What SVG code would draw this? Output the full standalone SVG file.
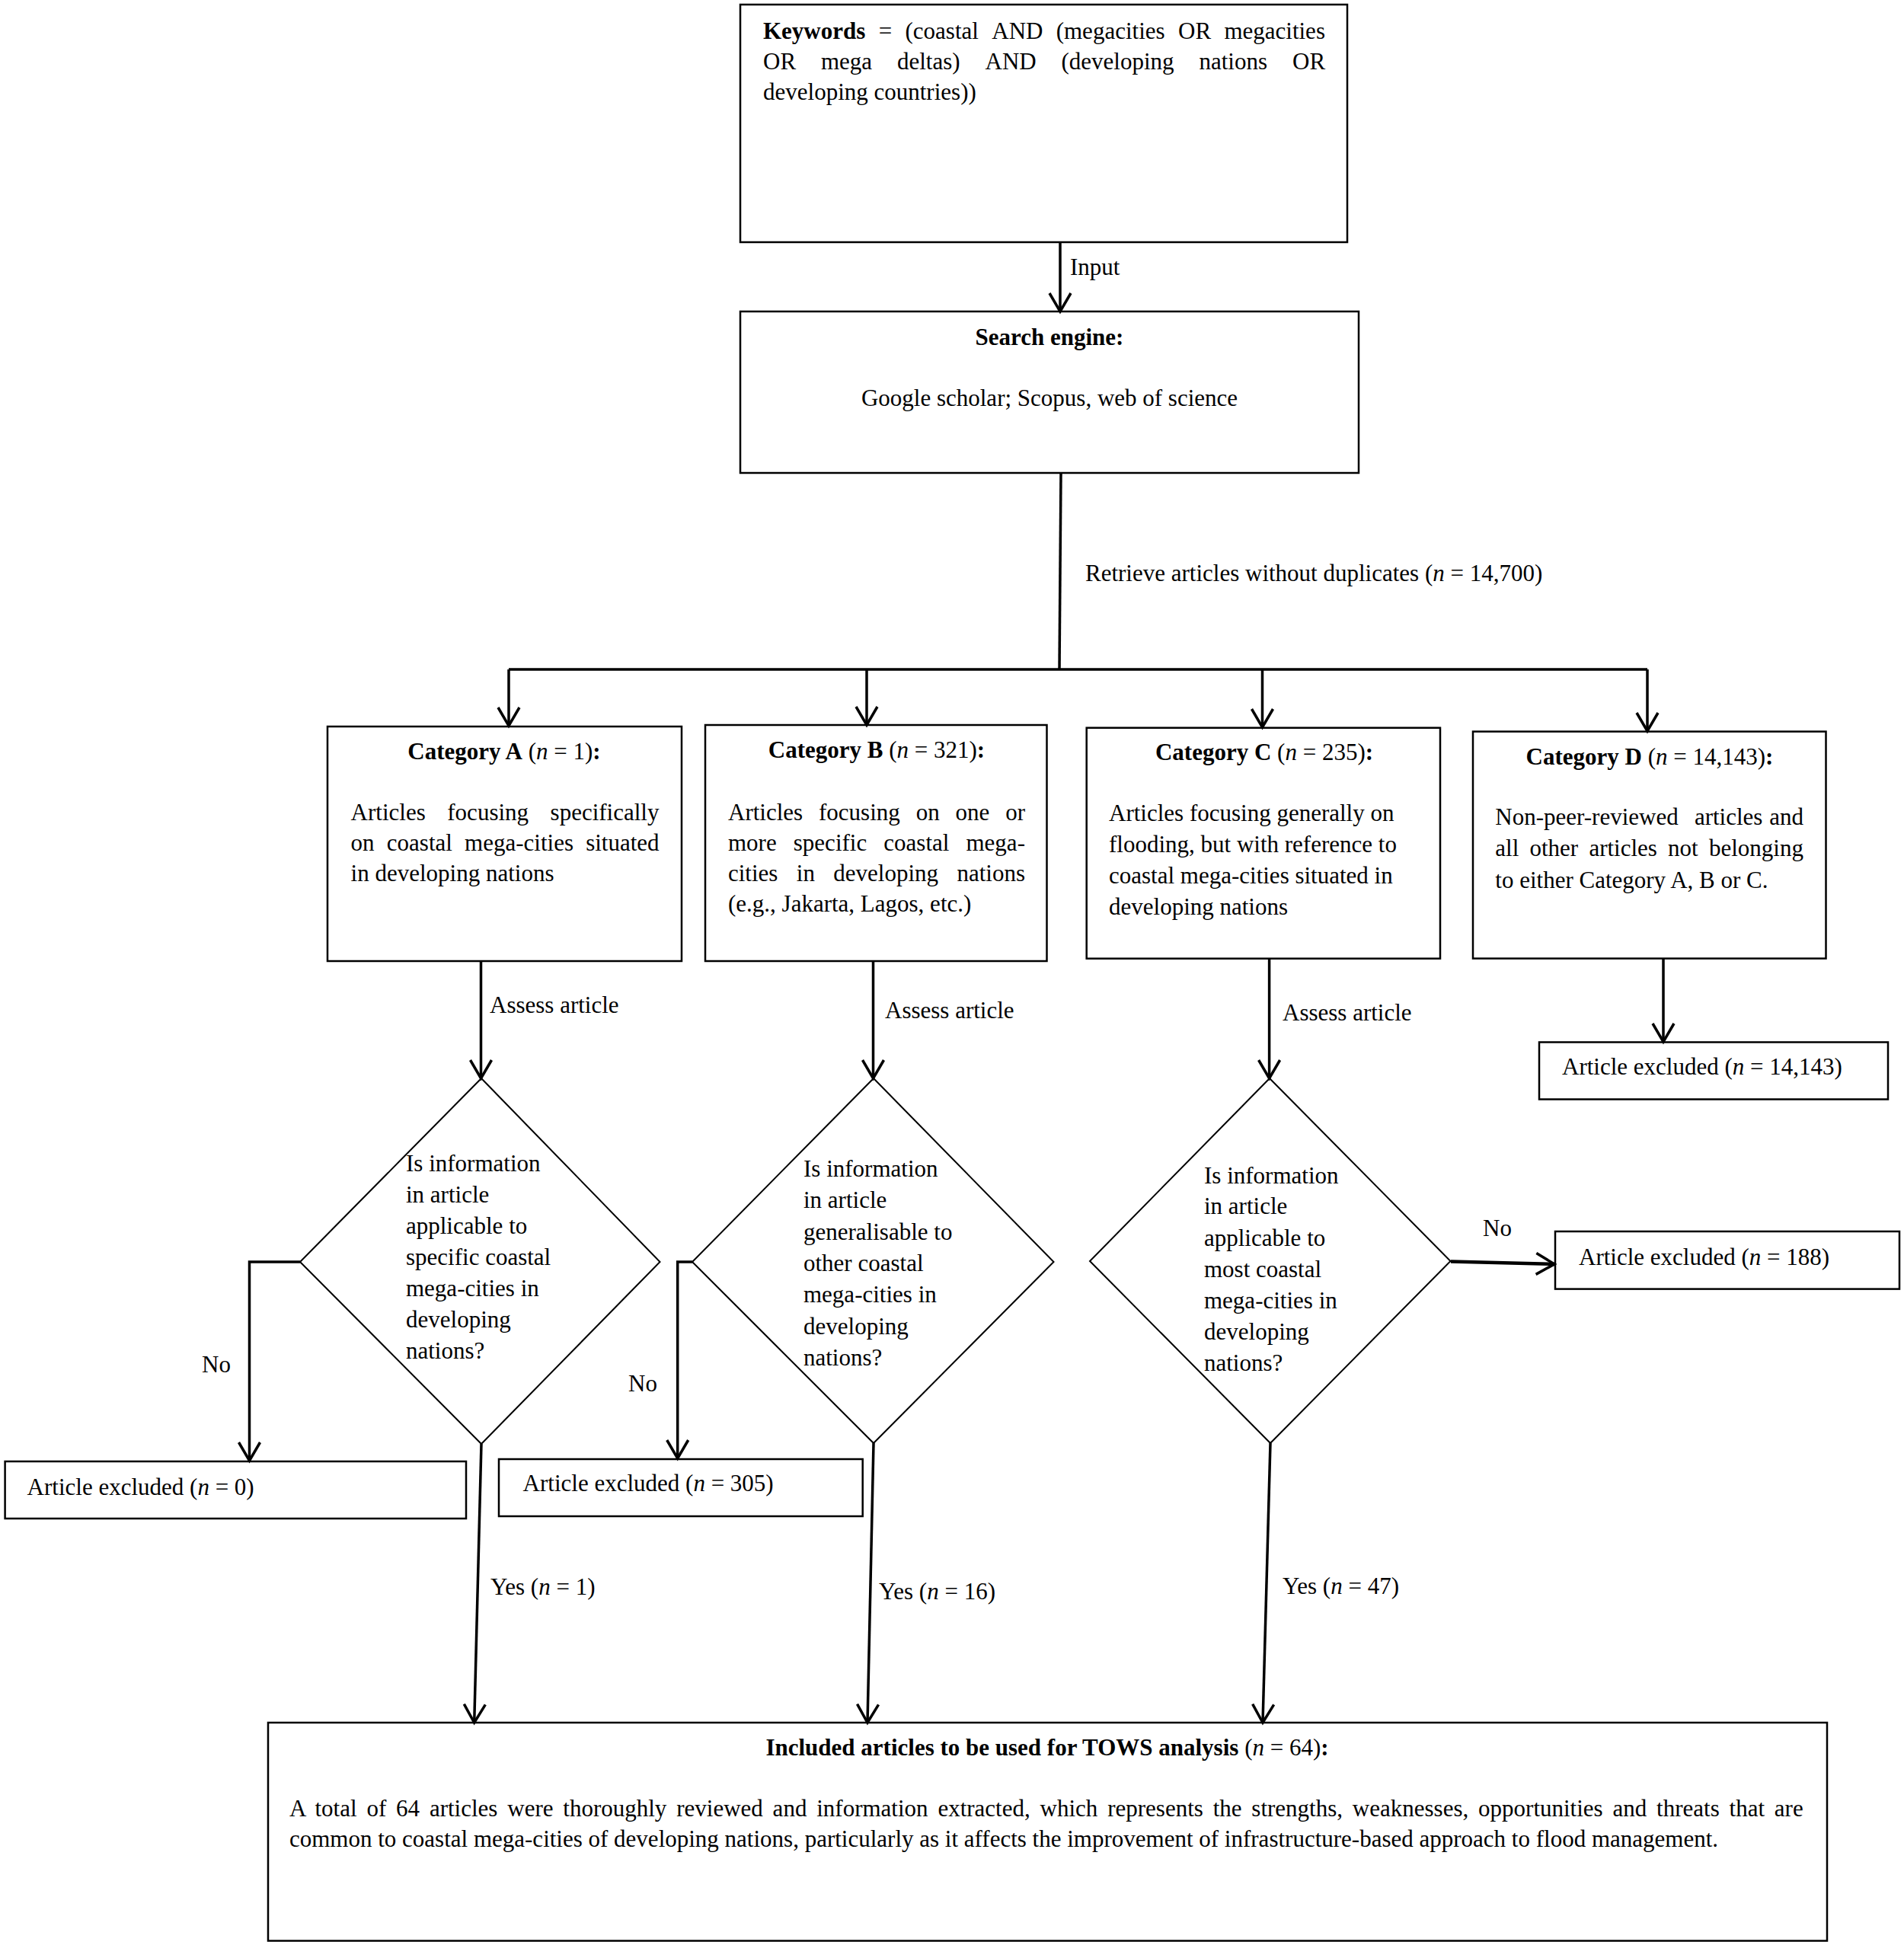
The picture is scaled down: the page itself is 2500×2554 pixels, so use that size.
<svg xmlns="http://www.w3.org/2000/svg" width="2500" height="2554" viewBox="0 0 2500 2554">
<defs>
<style>
.t{font-family:"Liberation Serif","Times New Roman",serif;font-size:31px;fill:#000}
.b{font-weight:bold}
.i{font-style:italic}
.box{fill:#fff;stroke:#000;stroke-width:2.5}
.dia{fill:#fff;stroke:#000;stroke-width:2}
.con{fill:none;stroke:#000;stroke-width:3.5}
.thick{stroke-width:4.5}
</style>
<marker id="ah" markerUnits="userSpaceOnUse" markerWidth="40" markerHeight="40" viewBox="-30 -20 40 40" refX="0" refY="0" orient="auto" overflow="visible">
<path d="M-24,-14 L0,0 L-24,14" fill="none" stroke="#000" stroke-width="3.5"/>
</marker>
</defs>
<rect width="2500" height="2554" fill="#fff"/>

<g id="keywords">
<rect class="box" x="972" y="6" width="797" height="312"/>
<text class="t" y="51"><tspan class="b" x="1002">Keywords</tspan><tspan x="1153.7">=</tspan><tspan x="1188.5">(coastal</tspan><tspan x="1302.3">AND</tspan><tspan x="1386.7">(megacities</tspan><tspan x="1547">OR</tspan><tspan x="1607.4">megacities</tspan></text>
<text class="t" y="91"><tspan x="1002">OR</tspan><tspan x="1078">mega</tspan><tspan x="1178">deltas)</tspan><tspan x="1293.5">AND</tspan><tspan x="1393.5">(developing</tspan><tspan x="1574.5">nations</tspan><tspan x="1697">OR</tspan></text>
<text class="t" x="1002" y="131">developing countries))</text>
</g>

<g id="search">
<rect class="box" x="972" y="409" width="812" height="212"/>
<text class="t b" x="1378" y="453" text-anchor="middle">Search engine:</text>
<text class="t" x="1378" y="533" text-anchor="middle">Google scholar; Scopus, web of science</text>
</g>

<g id="catA">
<rect class="box" x="430" y="954" width="465" height="308"/>
<text class="t" x="662" y="997" text-anchor="middle"><tspan class="b">Category A</tspan> (<tspan class="i">n</tspan> = 1)<tspan class="b">:</tspan></text>
<text class="t" y="1077"><tspan x="460.6">Articles</tspan><tspan x="587.3">focusing</tspan><tspan x="722.6">specifically</tspan></text>
<text class="t" y="1117"><tspan x="460.6">on</tspan><tspan x="507.8">coastal</tspan><tspan x="610.1">mega-cities</tspan><tspan x="769.2">situated</tspan></text>
<text class="t" x="460.6" y="1157">in developing nations</text>
</g>

<g id="catB">
<rect class="box" x="926" y="952" width="448.5" height="310"/>
<text class="t" x="1151" y="995" text-anchor="middle"><tspan class="b">Category B</tspan> (<tspan class="i">n</tspan> = 321)<tspan class="b">:</tspan></text>
<text class="t" y="1077"><tspan x="956">Articles</tspan><tspan x="1075">focusing</tspan><tspan x="1202.7">on</tspan><tspan x="1254.6">one</tspan><tspan x="1320.3">or</tspan></text>
<text class="t" y="1117"><tspan x="956">more</tspan><tspan x="1041.8">specific</tspan><tspan x="1160.3">coastal</tspan><tspan x="1268.5">mega-</tspan></text>
<text class="t" y="1157"><tspan x="956">cities</tspan><tspan x="1045.8">in</tspan><tspan x="1094.3">developing</tspan><tspan x="1256.5">nations</tspan></text>
<text class="t" x="956" y="1197">(e.g., Jakarta, Lagos, etc.)</text>
</g>

<g id="catC">
<rect class="box" x="1426.7" y="955.7" width="464.3" height="303"/>
<text class="t" x="1660" y="998" text-anchor="middle"><tspan class="b">Category C</tspan> (<tspan class="i">n</tspan> = 235)<tspan class="b">:</tspan></text>
<text class="t" x="1456" y="1078">Articles focusing generally on</text>
<text class="t" x="1456" y="1119">flooding, but with reference to</text>
<text class="t" x="1456" y="1160">coastal mega-cities situated in</text>
<text class="t" x="1456" y="1201">developing nations</text>
</g>

<g id="catD">
<rect class="box" x="1934" y="960.6" width="463.5" height="298"/>
<text class="t" x="2166" y="1003.5" text-anchor="middle"><tspan class="b">Category D</tspan> (<tspan class="i">n</tspan> = 14,143)<tspan class="b">:</tspan></text>
<text class="t" y="1083"><tspan x="1963.3">Non-peer-reviewed</tspan><tspan x="2224.9">articles</tspan><tspan x="2323.2">and</tspan></text>
<text class="t" y="1124"><tspan x="1963.3">all</tspan><tspan x="2008.5">other</tspan><tspan x="2086.4">articles</tspan><tspan x="2190.1">not</tspan><tspan x="2243.9">belonging</tspan></text>
<text class="t" x="1963.3" y="1166">to either Category A, B or C.</text>
</g>

<g id="exclD">
<rect class="box" x="2021" y="1368.5" width="458" height="75"/>
<text class="t" x="2051" y="1411">Article excluded (<tspan class="i">n</tspan> = 14,143)</text>
</g>

<g id="diamondA">
<polygon class="dia" points="632,1416 866.5,1657 632,1896 394,1657"/>
<text class="t" x="533" y="1538">Is information</text>
<text class="t" x="533" y="1579">in article</text>
<text class="t" x="533" y="1620">applicable to</text>
<text class="t" x="533" y="1661">specific coastal</text>
<text class="t" x="533" y="1702">mega-cities in</text>
<text class="t" x="533" y="1743">developing</text>
<text class="t" x="533" y="1784">nations?</text>
</g>

<g id="diamondB">
<polygon class="dia" points="1147,1416 1383.5,1657 1147,1895 909,1657"/>
<text class="t" x="1055" y="1545">Is information</text>
<text class="t" x="1055" y="1586">in article</text>
<text class="t" x="1055" y="1628">generalisable to</text>
<text class="t" x="1055" y="1669">other coastal</text>
<text class="t" x="1055" y="1710">mega-cities in</text>
<text class="t" x="1055" y="1752">developing</text>
<text class="t" x="1055" y="1793">nations?</text>
</g>

<g id="diamondC">
<polygon class="dia" points="1667,1416 1904.5,1656 1668,1895 1431,1656"/>
<text class="t" x="1581" y="1554">Is information</text>
<text class="t" x="1581" y="1594">in article</text>
<text class="t" x="1581" y="1636">applicable to</text>
<text class="t" x="1581" y="1677">most coastal</text>
<text class="t" x="1581" y="1718">mega-cities in</text>
<text class="t" x="1581" y="1759">developing</text>
<text class="t" x="1581" y="1800">nations?</text>
</g>

<g id="exclA">
<rect class="box" x="6.6" y="1919" width="605.4" height="75"/>
<text class="t" x="35.6" y="1963">Article excluded (<tspan class="i">n</tspan> = 0)</text>
</g>

<g id="exclB">
<rect class="box" x="655" y="1916" width="477.7" height="75"/>
<text class="t" x="686.6" y="1958">Article excluded (<tspan class="i">n</tspan> = 305)</text>
</g>

<g id="exclC">
<rect class="box" x="2042" y="1617" width="452" height="75.6"/>
<text class="t" x="2073" y="1661">Article excluded (<tspan class="i">n</tspan> = 188)</text>
</g>

<g id="tows">
<rect class="box" x="352" y="2262" width="2047" height="286.5"/>
<text class="t" x="1375" y="2305" text-anchor="middle"><tspan class="b">Included articles to be used for TOWS analysis</tspan> (<tspan class="i">n</tspan> = 64)<tspan class="b">:</tspan></text>
<text class="t" x="380" y="2385" word-spacing="5.08">A total of 64 articles were thoroughly reviewed and information extracted, which represents the strengths, weaknesses, opportunities and threats that are</text>
<text class="t" x="380" y="2425">common to coastal mega-cities of developing nations, particularly as it affects the improvement of infrastructure-based approach to flood management.</text>
</g>

<g id="connectors">
<line class="con" x1="1392" y1="318" x2="1392" y2="409" marker-end="url(#ah)"/>
<line class="con" x1="1393" y1="621" x2="1391" y2="879"/>
<line class="con" x1="668" y1="879" x2="2163" y2="879"/>
<line class="con" x1="668" y1="879" x2="668" y2="953" marker-end="url(#ah)"/>
<line class="con" x1="1138" y1="879" x2="1138" y2="952" marker-end="url(#ah)"/>
<line class="con" x1="1657.5" y1="879" x2="1657.5" y2="955" marker-end="url(#ah)"/>
<line class="con" x1="2163" y1="879" x2="2163" y2="960" marker-end="url(#ah)"/>
<line class="con" x1="631.5" y1="1262" x2="631.5" y2="1416" marker-end="url(#ah)"/>
<line class="con" x1="1146.5" y1="1262" x2="1146.5" y2="1416" marker-end="url(#ah)"/>
<line class="con" x1="1666.6" y1="1259" x2="1666.6" y2="1416" marker-end="url(#ah)"/>
<line class="con" x1="2184" y1="1259" x2="2184" y2="1368" marker-end="url(#ah)"/>
<polyline class="con" points="394,1657 327.5,1657 327.5,1918" marker-end="url(#ah)"/>
<polyline class="con" points="909,1657 889.7,1657 889.7,1915" marker-end="url(#ah)"/>
<line class="con thick" x1="1905" y1="1656.5" x2="2041" y2="1660" marker-end="url(#ah)"/>
<line class="con" x1="632" y1="1896" x2="622.7" y2="2262" marker-end="url(#ah)"/>
<line class="con" x1="1147" y1="1895" x2="1139" y2="2262" marker-end="url(#ah)"/>
<line class="con" x1="1668" y1="1895" x2="1658" y2="2262" marker-end="url(#ah)"/>
<text class="t" x="1405" y="361">Input</text>
<text class="t" x="1425" y="763">Retrieve articles without duplicates (<tspan class="i">n</tspan> = 14,700)</text>
<text class="t" x="643" y="1330">Assess article</text>
<text class="t" x="1162" y="1337">Assess article</text>
<text class="t" x="1684" y="1340">Assess article</text>
<text class="t" x="265" y="1802">No</text>
<text class="t" x="825" y="1827">No</text>
<text class="t" x="1947" y="1623">No</text>
<text class="t" x="644" y="2094">Yes (<tspan class="i">n</tspan> = 1)</text>
<text class="t" x="1154" y="2100">Yes (<tspan class="i">n</tspan> = 16)</text>
<text class="t" x="1684" y="2093">Yes (<tspan class="i">n</tspan> = 47)</text>
</g>
</svg>
